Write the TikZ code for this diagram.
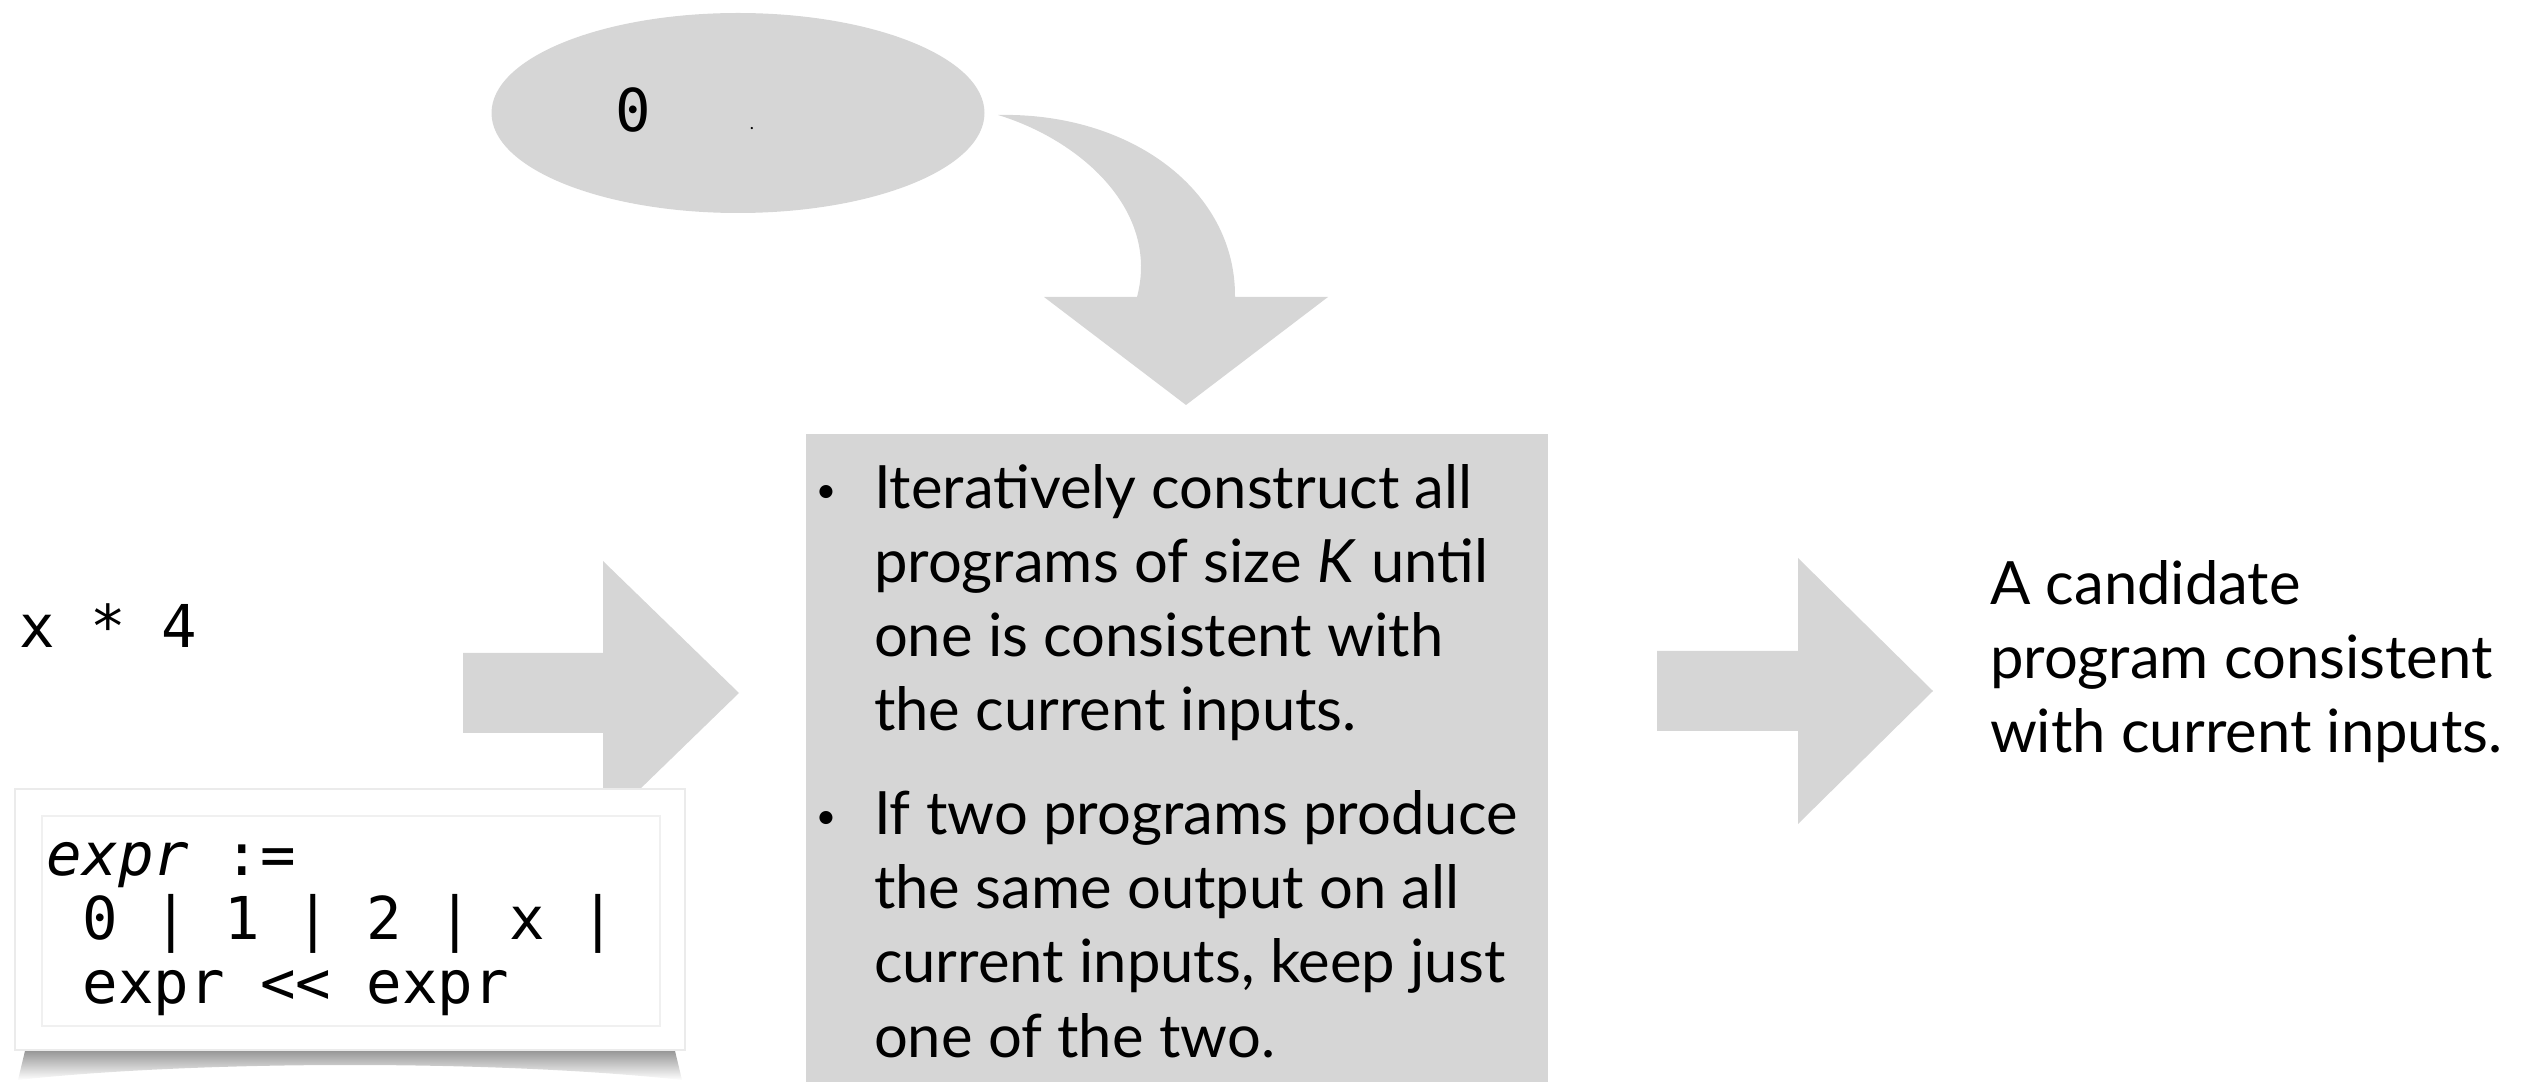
\documentclass[tikz,border=0pt]{standalone}
\usepackage{fontspec}
\setmainfont{Lato}
\setmonofont{DejaVu Sans Mono}
\usepackage{tikz}
\usetikzlibrary{positioning,shapes.geometric}
\definecolor{keygray}{RGB}{214,214,214}

\begin{document}
\begin{tikzpicture}[x=0.1mm,y=-0.1mm,
  every node/.style={inner sep=0pt,outer sep=0pt},
  blob/.style={fill=keygray},
  code/.style={font=\fontsize{16.8}{18.35}\selectfont\ttfamily,align=left},
  prose/.style={font=\fontsize{17}{21.1}\selectfont,align=left},
  dot/.style={font=\fontsize{10}{10}\selectfont}]
\useasboundingbox (0,0) rectangle (2528,1082);

\node[ellipse,blob,minimum width=49.3mm,minimum height=20mm] (seed) at (738,113) {};
\node[code,anchor=base] (seedval) at (633,132) {0};
\node[font=\fontsize{5}{5}\selectfont,anchor=base] (seeddot) at (752,130) {.};
\fill[blob] (998,115) .. controls (1130,112) and (1236,190) .. (1235,297) -- (1328,297) -- (1186,405)
  -- (1044,297) -- (1137,297) .. controls (1160,210) and (1080,140) .. (998,115) -- cycle;

\node[code,anchor=base west] (example) at (19,648) {x * 4};
\coordinate (inarrow) at (463,693);
\fill[blob] (inarrow) ++(0,-40) -- ++(140,0) -- ++(0,-92) -- ++(136,132) -- ++(-136,132) -- ++(0,-92) -- ++(-140,0) -- cycle;

\shade[top color=black!70,bottom color=white] (30,1030) -- (670,1030) -- (682,1080) .. controls (500,1060) and (200,1060) .. (18,1080) -- cycle;
\node[draw=black!8,fill=white,minimum width=67mm,minimum height=26.1mm,anchor=north west] (grammar) at (15,789) {};
\draw[black!6] ([shift={(27,27)}]grammar.north west) rectangle ([shift={(-25,-24)}]grammar.south east);
\node[code,anchor=base west] (rules) at (47,1004) {\textit{expr} :=\\\hphantom{0}0 | 1 | 2 | x |\\\hphantom{0}expr << expr};

\node[blob,minimum width=74.2mm,minimum height=64.8mm,anchor=north west] (search) at (806,434) {};
\node[prose,anchor=base west] (steps) at (874,1057) {Iteratively construct all\\programs of size \textit{K} until\\one is consistent with\\the current inputs.\\[8.5pt]If two programs produce\\the same output on all\\current inputs, keep just\\one of the two.};
\node[dot] (bulA) at (826,494) {\textbullet};
\node[dot] (bulB) at (826,820) {\textbullet};

\coordinate (outarrow) at (1657,691);
\fill[blob] (outarrow) ++(0,-40) -- ++(141,0) -- ++(0,-93) -- ++(135,133) -- ++(-135,133) -- ++(0,-93) -- ++(-141,0) -- cycle;
\node[prose,anchor=base west] (result) at (1990,753) {A candidate\\program consistent\\with current inputs.};
\end{tikzpicture}
\end{document}
